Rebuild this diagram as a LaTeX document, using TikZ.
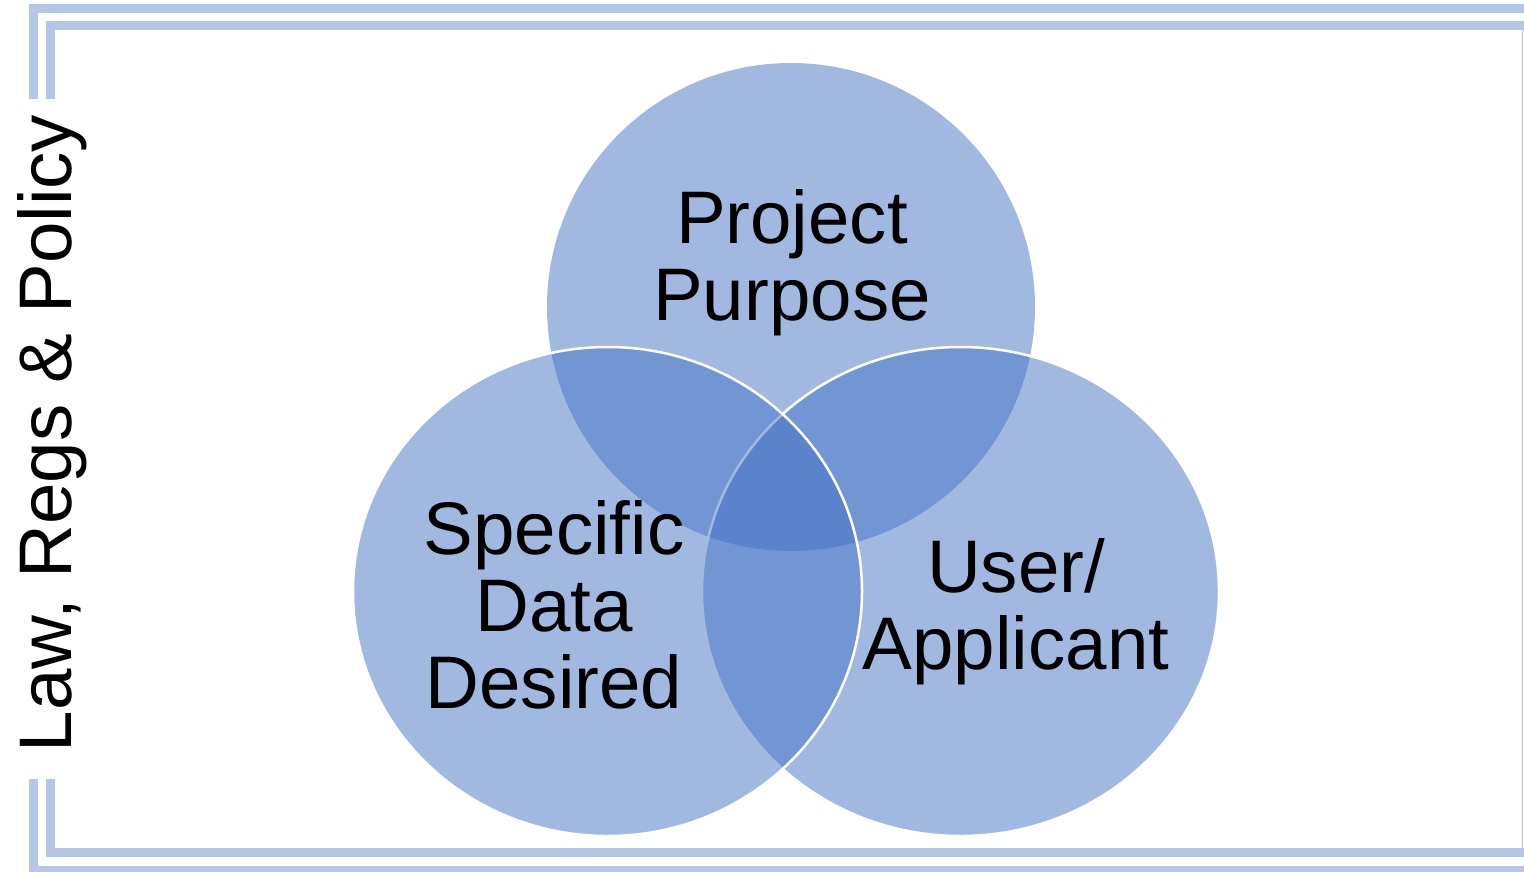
\documentclass[tikz,border=0pt]{standalone}
\usepackage{fontspec}
\setmainfont{Liberation Sans}
\usetikzlibrary{shapes.geometric}
\definecolor{venn}{HTML}{4472C4}
\definecolor{frame}{HTML}{B4C7E7}
\tikzset{
  vcirc/.style={ellipse, inner sep=0pt, fill=venn, fill opacity=0.5},
  vline/.style={draw=white, line width=2.5pt, draw opacity=1},
  big/.style={font=\fontsize{74.5}{76}\selectfont, inner sep=0pt, anchor=base, text=black},
  framebar/.style={draw=frame, line width=9pt},
  framethin/.style={draw=frame, line width=1.5pt}
}
\begin{document}
\begin{tikzpicture}[x=1pt,y=-1pt]
\useasboundingbox (0,0) rectangle (1524,871);
% frame
\draw[framebar] (33.5,99) -- (33.5,8.5) -- (1530,8.5);
\draw[framebar] (50.5,99) -- (50.5,25.5) -- (1530,25.5);
\draw[framebar] (50.5,779) -- (50.5,852.5) -- (1530,852.5);
\draw[framebar] (33.5,779) -- (33.5,870.5) -- (1530,870.5);
\draw[framethin] (1522.5,30) -- (1522.5,848);
% circles
\node[vcirc, minimum width=488pt, minimum height=488pt] (top) at (791,307) {};
\node[vcirc, vline, minimum width=517pt, minimum height=489pt] (right) at (960.5,591.5) {};
\node[vcirc, vline, minimum width=509pt, minimum height=489pt] (left) at (607.5,591.5) {};
% labels
\node[big] (p1) at (792,243) {Project};
\node[big] (p2) at (792,320) {Purpose};
\node[big] (s1) at (554,554) {Specific};
\node[big] (s2) at (554,631) {Data};
\node[big] (s3) at (554,708) {Desired};
\node[big] (u1) at (1016,592) {User/};
\node[big] (u2) at (1016,669) {Applicant};
\node[big, rotate=90] (law) at (71,433.5) {Law, Regs \& Policy};
\end{tikzpicture}
\end{document}
